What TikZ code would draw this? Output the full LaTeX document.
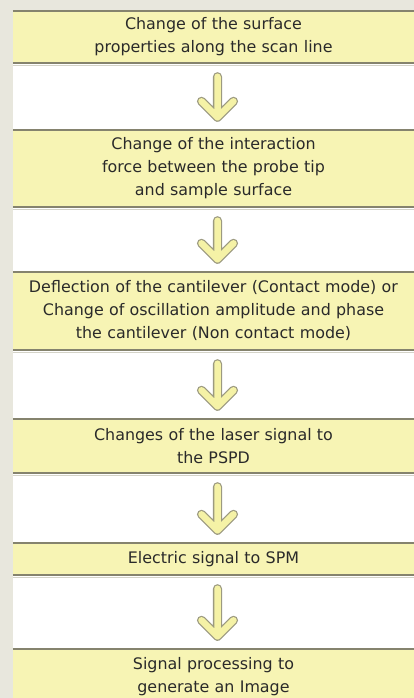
\documentclass[tikz,border=0pt]{standalone}
\usepackage{fontspec}
\setmainfont{DejaVu Sans}
\definecolor{bggrey}{HTML}{E8E7DD}
\definecolor{boxyellow}{HTML}{F7F4B4}
\definecolor{edgegrey}{HTML}{85836E}
\definecolor{shadowgrey}{HTML}{D4D3C8}
\definecolor{textgrey}{HTML}{2A2A2A}
\definecolor{arrowedge}{HTML}{9C9A80}
\definecolor{arrowfill}{HTML}{F5F2A6}
\tikzset{
  box/.style={fill=boxyellow, inner sep=0pt, minimum width=401pt, text width=398pt,
    align=center, text=textgrey, font=\fontsize{15.9}{23}\selectfont},
  border/.style={draw=edgegrey, line width=2pt},
  shadow/.style={draw=shadowgrey, line width=1.5pt},
  arr/.style={draw=arrowedge, line width=1.3pt, double=arrowfill, double distance=6.5pt,
    line cap=round, line join=round}
}
\begin{document}
\begin{tikzpicture}[x=1pt,y=-1pt]
\useasboundingbox (0,0) rectangle (414,698);
\clip (0,0) rectangle (414,698);
\fill[bggrey] (0,0) rectangle (414,698);
\fill[white] (13,11) rectangle (414,698);

\node[box, minimum height=52pt] (b1) at (213.5,37)
  {Change of the surface\\properties along the scan line};
\node[box, minimum height=77pt] (b2) at (213.5,168.5)
  {Change of the interaction\\force between the probe tip\\and sample surface};
\node[box, minimum height=78pt] (b3) at (213.5,311)
  {Deflection of the cantilever (Contact mode) or\\Change of oscillation amplitude and phase\\the cantilever (Non contact mode)};
\node[box, minimum height=54pt] (b4) at (213.5,446)
  {Changes of the laser signal to\\the PSPD};
\node[box, minimum height=32pt] (b5) at (213.5,559)
  {Electric signal to SPM};
\node[box, minimum height=55pt] (b6) at (213.5,676.5)
  {Signal processing to\\generate an Image};

\foreach \b in {b1,b2,b3,b4,b5}{
  \draw[shadow] ([yshift=-2.5pt]\b.south west) -- ([yshift=-2.5pt]\b.south east);
  \draw[border] (\b.south west) -- (\b.south east);
}
\foreach \b in {b1,b2,b3,b4,b5,b6}{
  \draw[border] (\b.north west) -- (\b.north east);
}

\foreach \a/\b in {b1/b2,b2/b3,b3/b4,b4/b5,b5/b6}{
  \draw[arr] ([xshift=4pt,yshift=-13.5pt]\a.south) -- ([xshift=4pt,yshift=12.5pt]\b.north) coordinate (t)
    -- ++(-16,-16) (t) -- ++(16,-16);
}
\end{tikzpicture}
\end{document}
